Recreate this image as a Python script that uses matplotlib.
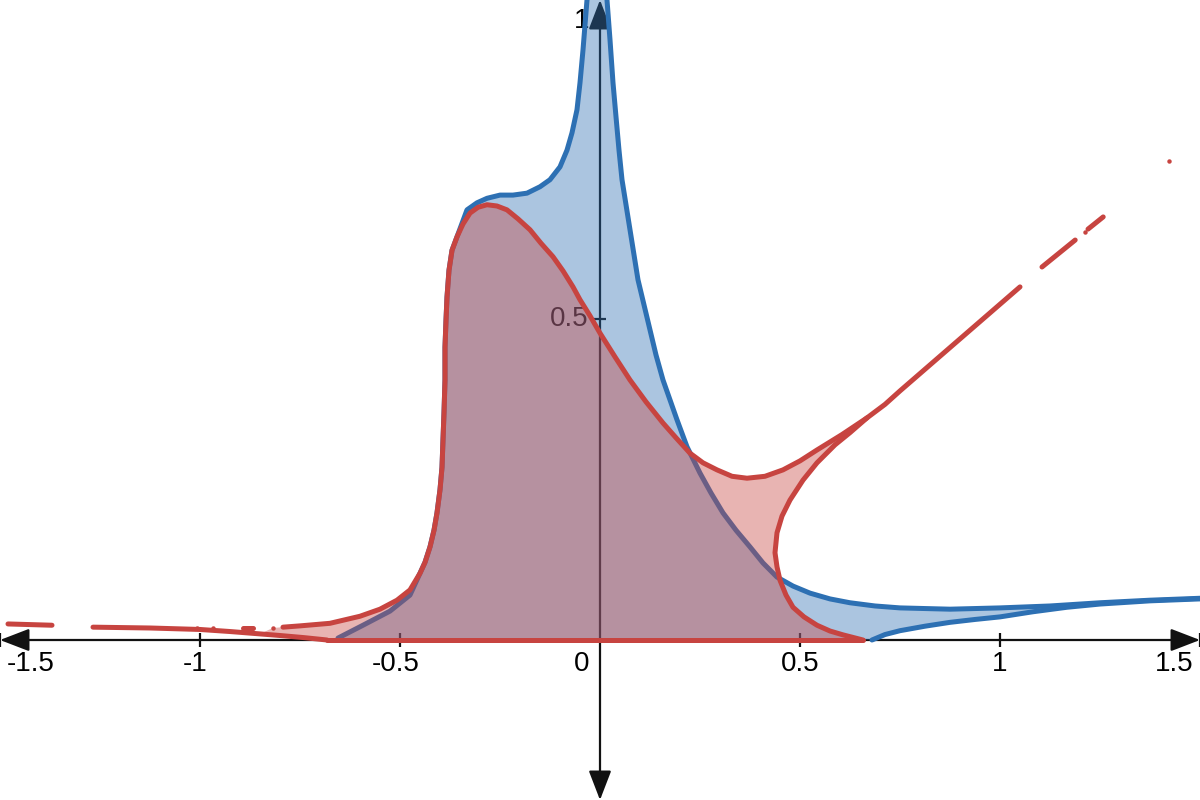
import numpy as np
import matplotlib
matplotlib.use("Agg")
import matplotlib.pyplot as plt

plt.rcParams['font.family'] = ['Liberation Sans', 'DejaVu Sans']

# colours (Desmos style)
BLUE = '#2d70b3'
RED = '#c74440'

# --- data ------------------------------------------------------------
# blue curve, left flank up to the spike (shares the red flank in the middle)
blue_up_x = [-0.655, -0.5925, -0.525, -0.475, -0.45, -0.4375, -0.425, -0.415, -0.4075, -0.40,
             -0.395, -0.3925, -0.39, -0.3875, -0.3875, -0.385, -0.3825, -0.3775, -0.37, -0.3575,
             -0.3325, -0.3075, -0.2825, -0.25, -0.2175, -0.1825, -0.15, -0.125, -0.10, -0.0825,
             -0.07, -0.0575, -0.05, -0.0425, -0.0325, -0.0275]
blue_up_y = [0.003, 0.023, 0.045, 0.070, 0.104, 0.121, 0.145, 0.171, 0.198, 0.234,
             0.269, 0.312, 0.354, 0.405, 0.456, 0.498, 0.534, 0.576, 0.607, 0.628,
             0.670, 0.681, 0.688, 0.693, 0.693, 0.696, 0.706, 0.717, 0.737, 0.763,
             0.790, 0.826, 0.868, 0.919, 0.997, 1.05]
# blue curve, right flank from the spike out to the right edge
blue_rt_x = [0.0175, 0.0175, 0.025, 0.0325, 0.04, 0.0475, 0.055, 0.065, 0.075, 0.085,
             0.095, 0.11, 0.125, 0.14, 0.1575, 0.175, 0.1925, 0.2175, 0.25, 0.2775,
             0.3075, 0.34, 0.375, 0.4075, 0.4425, 0.4825, 0.525, 0.575, 0.625, 0.6875,
             0.75, 0.875, 1.0, 1.125, 1.25, 1.375, 1.5]
blue_rt_y = [1.05, 0.997, 0.935, 0.868, 0.815, 0.763, 0.717, 0.678, 0.639, 0.600,
             0.561, 0.522, 0.483, 0.444, 0.405, 0.374, 0.343, 0.301, 0.260, 0.229,
             0.198, 0.171, 0.145, 0.120, 0.098, 0.084, 0.073, 0.064, 0.058, 0.053,
             0.050, 0.048, 0.050, 0.053, 0.058, 0.062, 0.065]
# lower blue branch
blue_lo_x = [0.68, 0.7125, 0.75, 0.8125, 0.875, 0.9375, 1.0, 1.0825, 1.1675, 1.25, 1.375, 1.5]
blue_lo_y = [0.0, 0.0085, 0.0145, 0.0215, 0.0275, 0.032, 0.036, 0.044, 0.051, 0.056, 0.061, 0.064]

# red curve, upper branch
red_up_x = [-0.7925, -0.75, -0.675, -0.6, -0.55, -0.5075, -0.475, -0.45, -0.4375, -0.425,
            -0.415, -0.4075, -0.40, -0.395, -0.3925, -0.39, -0.3875, -0.3875, -0.385, -0.3825,
            -0.3775, -0.37, -0.3575, -0.3425, -0.325, -0.305, -0.2825, -0.2575, -0.2325, -0.205,
            -0.175, -0.1475, -0.1175, -0.0925, -0.0675, -0.05, -0.025, 0.0, 0.0375, 0.075,
            0.115, 0.1575, 0.19, 0.225, 0.2575, 0.2925, 0.33, 0.3675, 0.4125, 0.4575,
            0.5, 0.5425, 0.605, 0.6675, 0.7125, 0.75, 0.9, 1.05]
red_up_y = [0.020, 0.022, 0.026, 0.037, 0.048, 0.062, 0.078, 0.104, 0.121, 0.145,
            0.171, 0.198, 0.234, 0.269, 0.312, 0.354, 0.405, 0.456, 0.498, 0.534,
            0.576, 0.607, 0.628, 0.648, 0.665, 0.674, 0.678, 0.676, 0.670, 0.656,
            0.639, 0.618, 0.597, 0.575, 0.550, 0.530, 0.505, 0.478, 0.441, 0.405,
            0.371, 0.338, 0.315, 0.291, 0.276, 0.265, 0.255, 0.252, 0.255, 0.265,
            0.279, 0.296, 0.320, 0.346, 0.367, 0.388, 0.469, 0.550]
# red curve, lower branch (the "nose")
red_lo_x = [0.6675, 0.625, 0.5875, 0.5425, 0.5075, 0.475, 0.455, 0.4425, 0.4375, 0.4425,
            0.45, 0.465, 0.4825, 0.51, 0.5425, 0.575, 0.6075, 0.6575]
red_lo_y = [0.346, 0.323, 0.304, 0.276, 0.249, 0.218, 0.193, 0.167, 0.136, 0.114,
            0.093, 0.070, 0.051, 0.036, 0.023, 0.014, 0.008, 0.0]
# red line on the left, sloping down to the x axis
red_left_x = [-1.2675, -1.125, -1.0, -0.925, -0.85, -0.8, -0.74, -0.6825]
red_left_y = [0.020, 0.0187, 0.0164, 0.0132, 0.0095, 0.0070, 0.0037, 0.0]
# broken pieces of red (sampling gaps)
red_dash_segs = [([-1.48, -1.37], [0.025, 0.023]),
                 ([-0.893, -0.868], [0.0187, 0.0187]),
                 ([1.105, 1.188], [0.581, 0.623]),
                 ([1.22, 1.258], [0.64, 0.659])]
red_dot_x = [-1.008, -0.968, -0.818, 1.213, 1.423]
red_dot_y = [0.0187, 0.0187, 0.0187, 0.636, 0.746]

xticks = [-1.5, -1, -0.5, 0.5, 1, 1.5]
xtick_labels = ['-1.5', '-1', '-0.5', '0.5', '1', '1.5']

# --- figure ----------------------------------------------------------
fig = plt.figure(figsize=(12, 8), dpi=100)
ax = fig.add_axes([0, 0, 1, 1])
ax.set_xlim(-1.5, 1.5)
ax.set_ylim(-160 / 642, 640 / 642)
ax.axis('off')

# axes with arrows
arrow = dict(arrowstyle='<|-|>,head_length=1.3,head_width=0.5', mutation_scale=14,
             color='#111111', lw=1.6, shrinkA=0, shrinkB=0)
ax.annotate('', xy=(1.5, 0), xytext=(-1.5, 0), arrowprops=arrow,
            annotation_clip=False, zorder=1)
ax.annotate('', xy=(0, 640 / 642), xytext=(0, -160 / 642), arrowprops=arrow,
            annotation_clip=False, zorder=1)

# ticks
ax.vlines(xticks, -0.011, 0.011, color='#111111', lw=1.6, zorder=1)
ax.hlines([0.5], -0.015, 0.015, color='#111111', lw=1.6, zorder=1)

# tick labels
fs = 20
for t, lab in zip(xticks, xtick_labels):
    if t == -1.5:
        ax.annotate(lab, (t, 0), xytext=(5, -17), textcoords='offset points',
                    ha='left', va='center', fontsize=fs, zorder=1)
    elif t == 1.5:
        ax.annotate(lab, (t, 0), xytext=(-5, -17), textcoords='offset points',
                    ha='right', va='center', fontsize=fs, zorder=1)
    else:
        dx = -3.3 if t < 0 else 0
        ax.annotate(lab, (t, 0), xytext=(dx, -17), textcoords='offset points',
                    ha='center', va='center', fontsize=fs, zorder=1)
ax.annotate('0', (0, 0), xytext=(-13, -17), textcoords='offset points',
            ha='center', va='center', fontsize=fs, zorder=1)
ax.annotate('0.5', (0, 0.5), xytext=(-8.5, 0), textcoords='offset points',
            ha='right', va='center', fontsize=fs, zorder=1)
ax.annotate('1', (0, 640 / 642), xytext=(-13, -15), textcoords='offset points',
            ha='center', va='center', fontsize=fs, zorder=1)

lw = 3.6

# blue region
bx = np.concatenate([blue_up_x, blue_rt_x, blue_lo_x[::-1]])
by = np.concatenate([blue_up_y, blue_rt_y, blue_lo_y[::-1]])
ax.fill(bx, by, color=BLUE, alpha=0.4, lw=0, zorder=3)
bkw = dict(color=BLUE, lw=lw, solid_capstyle='round', solid_joinstyle='round', zorder=4)
ax.plot(np.concatenate([blue_up_x, blue_rt_x]), np.concatenate([blue_up_y, blue_rt_y]), **bkw)
ax.plot(blue_lo_x, blue_lo_y, **bkw)

# red region
j = red_up_x.index(0.6675)
left_x = [x for x in red_left_x if x >= -0.85]
left_y = red_left_y[-len(left_x):]
rx = np.concatenate([[-0.818], red_up_x[:j + 1], red_lo_x[1:], left_x[::-1]])
ry = np.concatenate([[0.0187], red_up_y[:j + 1], red_lo_y[1:], left_y[::-1]])
ax.fill(rx, ry, color=RED, alpha=0.4, lw=0, zorder=5)

rkw = dict(color=RED, lw=lw, solid_capstyle='round', solid_joinstyle='round', zorder=6)
ax.plot(red_up_x, red_up_y, **rkw)
ax.plot(red_lo_x, red_lo_y, **rkw)
ax.plot(red_left_x, red_left_y, **rkw)
ax.plot([red_left_x[-1], red_lo_x[-1]], [0, 0], **rkw)
for sx, sy in red_dash_segs:
    ax.plot(sx, sy, **rkw)
ax.plot(red_dot_x, red_dot_y, 'o', color=RED, ms=3.2, mew=0, zorder=6)

fig.savefig('out.png', dpi=100)
